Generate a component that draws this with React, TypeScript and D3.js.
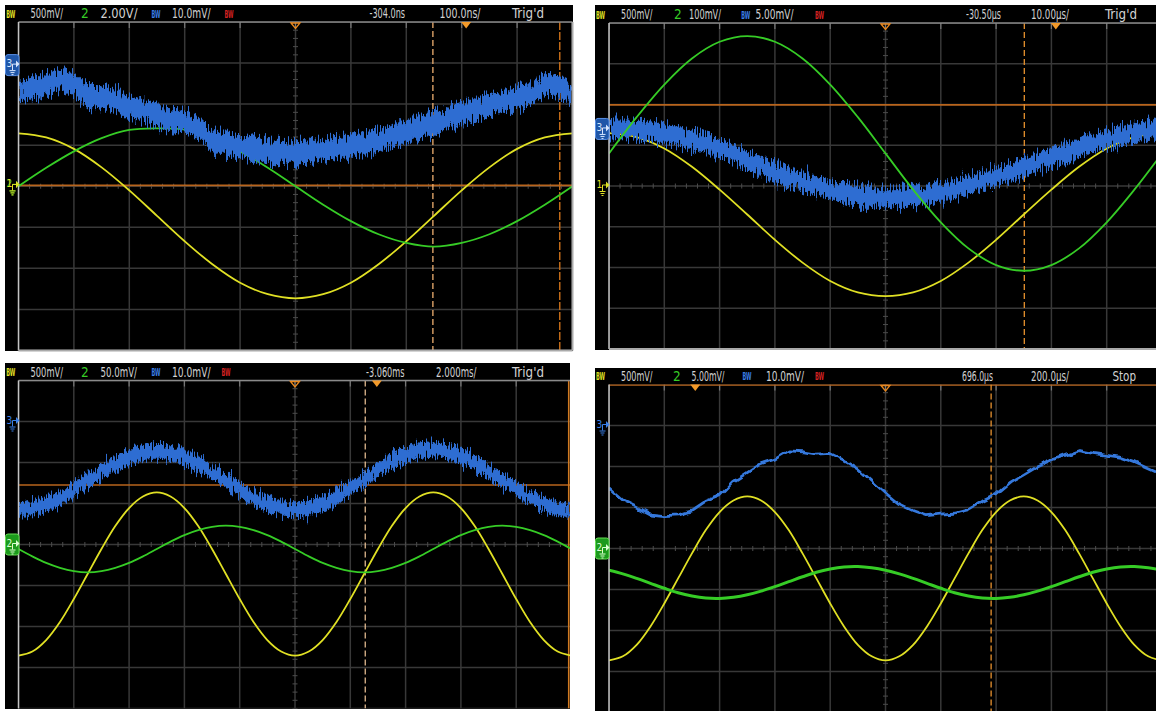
import React from "react";
import * as d3 from "d3";

// ---------- sample positions (graticule divisions from the left edge) ----------
const X_HALF = [0, 0.5, 1, 1.5, 2, 2.5, 3, 3.5, 4, 4.5, 5, 5.5, 6, 6.5, 7, 7.5, 8, 8.5, 9, 9.5, 10];
const X_QUARTER = [0, 0.25, 0.5, 0.75, 1, 1.25, 1.5, 1.75, 2, 2.25, 2.5, 2.75, 3, 3.25, 3.5, 3.75, 4, 4.25, 4.5, 4.75, 5,
  5.25, 5.5, 5.75, 6, 6.25, 6.5, 6.75, 7, 7.25, 7.5, 7.75, 8, 8.25, 8.5, 8.75, 9, 9.25, 9.5, 9.75, 10];

// ---------- trace values (divisions from screen centre, + = up) ----------
// Panel 1 (100 ns/div)
const P1_YELLOW = [1.29, 1.19, 0.91, 0.46, -0.10, -0.72, -1.34, -1.90, -2.35, -2.63, -2.73, -2.63, -2.35, -1.90, -1.34, -0.72, -0.10, 0.46, 0.91, 1.19, 1.29];
const P1_GREEN = [0.00, 0.45, 0.85, 1.17, 1.37, 1.41, 1.38, 1.17, 0.85, 0.45, 0.00, -0.45, -0.85, -1.17, -1.38, -1.47, -1.38, -1.17, -0.85, -0.45, 0.00];
const P1_BLUE = [2.34, 2.39, 2.44, 2.58, 2.48, 2.19, 2.17, 2.09, 1.92, 1.85, 1.73, 1.61, 1.56, 1.41, 1.12, 1.05, 0.97, 0.90, 0.85, 0.83, 0.80,
  0.83, 0.88, 0.93, 0.97, 1.05, 1.12, 1.22, 1.32, 1.44, 1.53, 1.66, 1.78, 1.88, 1.97, 2.07, 2.17, 2.26, 2.48, 2.44, 2.22];
// Panel 2 (10 us/div)
const P2_YELLOW = [1.30, 1.20, 0.92, 0.47, -0.09, -0.70, -1.32, -1.88, -2.33, -2.61, -2.70, -2.61, -2.33, -1.88, -1.32, -0.70, -0.09, 0.47, 0.92, 1.20, 1.30];
const P2_GREEN = [0.80, 1.69, 2.49, 3.13, 3.54, 3.68, 3.54, 3.13, 2.49, 1.69, 0.80, -0.09, -0.89, -1.53, -1.94, -2.08, -1.94, -1.53, -0.89, -0.09, 0.80];
const P2_BLUE = [1.37, 1.37, 1.30, 1.13, 0.93, 0.64, 0.34, 0.10, -0.10, -0.22, -0.29, -0.25, -0.15, 0.02, 0.22, 0.47, 0.71, 0.93, 1.15, 1.30, 1.42];
// Panel 3 (2 ms/div)
const P3_YELLOW = [-2.71, -2.61, -2.33, -1.89, -1.33, -0.72, -0.11, 0.45, 0.89, 1.17, 1.27, 1.17, 0.89, 0.45, -0.11, -0.72, -1.33, -1.89, -2.33, -2.61, -2.71,
  -2.61, -2.33, -1.89, -1.33, -0.72, -0.11, 0.45, 0.89, 1.17, 1.27, 1.17, 0.89, 0.45, -0.11, -0.72, -1.33, -1.89, -2.33, -2.61, -2.71];
const P3_GREEN = [-0.11, -0.29, -0.45, -0.57, -0.65, -0.68, -0.65, -0.57, -0.45, -0.29, -0.11, 0.07, 0.23, 0.35, 0.43, 0.46, 0.43, 0.35, 0.23, 0.07, -0.11,
  -0.29, -0.45, -0.57, -0.65, -0.68, -0.65, -0.57, -0.45, -0.29, -0.11, 0.07, 0.23, 0.35, 0.43, 0.46, 0.43, 0.35, 0.23, 0.07, -0.11];
const P3_BLUE = [0.85, 0.89, 0.99, 1.14, 1.34, 1.56, 1.78, 1.98, 2.13, 2.23, 2.27, 2.23, 2.13, 1.98, 1.78, 1.56, 1.34, 1.14, 0.99, 0.89, 0.85,
  0.89, 0.99, 1.14, 1.36, 1.58, 1.81, 2.02, 2.18, 2.29, 2.33, 2.27, 2.15, 1.99, 1.79, 1.57, 1.35, 1.15, 0.99, 0.89, 0.85];
// Panel 4 (200 us/div)
const P4_YELLOW = [-2.73, -2.63, -2.35, -1.90, -1.34, -0.73, -0.12, 0.45, 0.89, 1.17, 1.27, 1.17, 0.89, 0.45, -0.12, -0.73, -1.34, -1.90, -2.35, -2.63, -2.73,
  -2.63, -2.35, -1.90, -1.34, -0.73, -0.12, 0.45, 0.89, 1.17, 1.27, 1.17, 0.89, 0.45, -0.12, -0.73, -1.34, -1.90, -2.35, -2.63, -2.73];
const P4_GREEN = [-0.53, -0.62, -0.73, -0.85, -0.97, -1.08, -1.16, -1.21, -1.22, -1.19, -1.13, -1.04, -0.93, -0.81, -0.69, -0.58, -0.50, -0.45, -0.44, -0.47, -0.53,
  -0.62, -0.73, -0.85, -0.97, -1.08, -1.16, -1.21, -1.22, -1.19, -1.13, -1.04, -0.93, -0.81, -0.69, -0.58, -0.50, -0.45, -0.44, -0.47, -0.53];
const P4_BLUE = [1.48, 1.18, 1.02, 0.84, 0.80, 0.82, 0.92, 1.15, 1.28, 1.63, 1.85, 2.07, 2.18, 2.38, 2.36, 2.30, 2.32, 2.15, 1.95, 1.65, 1.35,
  1.08, 0.92, 0.80, 0.84, 0.86, 0.95, 1.15, 1.32, 1.60, 1.80, 2.00, 2.15, 2.27, 2.39, 2.32, 2.27, 2.22, 2.10, 1.95, 1.80];

// ---------- header labels ----------
const P1_LABELS = ["500mV/", "2.00V/", "10.0mV/", "-304.0ns", "100.0ns/", "Trig'd"];
const P2_LABELS = ["500mV/", "100mV/", "5.00mV/", "-30.50µs", "10.00µs/", "Trig'd"];
const P3_LABELS = ["500mV/", "50.0mV/", "10.0mV/", "-3.060ms", "2.000ms/", "Trig'd"];
const P4_LABELS = ["500mV/", "5.00mV/", "10.0mV/", "696.0µs", "200.0µs/", "Stop"];

// ---------- styles ----------
const YEL = "#e0e024";
const GRN = "#36cc26";
const BLU = "#2f6dd2";
const ORG = "#b8641c";
const GRID = "#383838";
const TXT = "#d2d2d2";
const FONT = "'Liberation Sans Narrow', 'DejaVu Sans Condensed', 'Liberation Sans', sans-serif";

type TraceCfg = { kind: "line" | "band"; xs: number[]; ys: number[]; color: string; width?: number; half?: number; filter?: string; linear?: boolean };
type CursorCfg = { pos: number; color: string; dash: string; width: number };
type MarkerCfg = { ch: string; pos: number; boxed: boolean };
type PanelCfg = {
  id: string;
  bx: number; by: number; bw: number; bh: number;
  gx: number; gy: number; sx: number; sy: number;
  labels: string[];
  labelPos: number[][];
  twoX: number;
  bwX: number[];
  trigLevel: number;
  trigPos: number;
  cursors: CursorCfg[];
  markers: MarkerCfg[];
  traces: TraceCfg[];
  borderRight: boolean;
  borderBottom: boolean;
  edgeLine?: number;
  orangeTop?: boolean;
};

const PANELS: PanelCfg[] = [
  {
    id: "p1", bx: 5, by: 5, bw: 568, bh: 346, gx: 18.5, gy: 22, sx: 55.4, sy: 41.06,
    labels: P1_LABELS,
    labelPos: [[30.5, 32.5], [100.5, 37], [172, 38.5], [369.5, 35.5], [439.5, 41], [512, 32]],
    twoX: 81, bwX: [6.3, 151.5, 224.6],
    trigLevel: 0.02, trigPos: 8.08,
    cursors: [{ pos: 7.48, color: "#f0b070", dash: "6 3", width: 1.3 }, { pos: 9.77, color: "#c06a18", dash: "8 2", width: 1.5 }],
    markers: [{ ch: "3", pos: 2.95, boxed: true }, { ch: "2", pos: 0.02, boxed: false }, { ch: "1", pos: 0.02, boxed: false }],
    traces: [
      { kind: "line", xs: X_HALF, ys: P1_YELLOW, color: YEL, width: 1.8 },
      { kind: "line", xs: X_HALF, ys: P1_GREEN, color: GRN, width: 1.8 },
      { kind: "band", xs: X_QUARTER, ys: P1_BLUE, color: BLU, half: 0.27, filter: "url(#noiseA)" },
    ],
    borderRight: true, borderBottom: true,
  },
  {
    id: "p2", bx: 595, by: 5, bw: 561, bh: 345, gx: 609, gy: 23, sx: 55.3, sy: 40.75,
    labels: P2_LABELS,
    labelPos: [[621, 31.5], [689, 32], [755.5, 38], [966, 35], [1031, 38], [1105, 32]],
    twoX: 674, bwX: [596, 741.3, 815],
    trigLevel: 1.99, trigPos: 8.08,
    cursors: [{ pos: 7.51, color: "#e8922e", dash: "6 3", width: 1.3 }],
    markers: [{ ch: "3", pos: 1.4, boxed: true }, { ch: "1", pos: 0, boxed: false }],
    traces: [
      { kind: "line", xs: X_HALF, ys: P2_YELLOW, color: YEL, width: 1.8 },
      { kind: "band", xs: X_HALF, ys: P2_BLUE, color: BLU, half: 0.23, filter: "url(#noiseA)" },
      { kind: "line", xs: X_HALF, ys: P2_GREEN, color: GRN, width: 1.8 },
    ],
    borderRight: false, borderBottom: true,
  },
  {
    id: "p3", bx: 5, by: 363, bw: 565, bh: 346, gx: 18.5, gy: 380.5, sx: 55.3, sy: 41,
    labels: P3_LABELS,
    labelPos: [[30.5, 32.5], [100.5, 36.5], [172, 38.5], [366, 38.5], [436, 40.5], [512, 32]],
    twoX: 81, bwX: [6.3, 151.5, 221.6],
    trigLevel: 1.45, trigPos: 6.48,
    cursors: [{ pos: 6.27, color: "#f3c89a", dash: "6 3", width: 1.2 }],
    markers: [{ ch: "3", pos: 3.0, boxed: false }, { ch: "2", pos: 0, boxed: true }],
    traces: [
      { kind: "line", xs: X_QUARTER, ys: P3_YELLOW, color: YEL, width: 1.8 },
      { kind: "line", xs: X_QUARTER, ys: P3_GREEN, color: GRN, width: 1.8 },
      { kind: "band", xs: X_QUARTER, ys: P3_BLUE, color: BLU, half: 0.18, filter: "url(#noiseB)" },
    ],
    borderRight: false, borderBottom: false, edgeLine: 9.95,
  },
  {
    id: "p4", bx: 595, by: 368, bw: 561, bh: 343, gx: 609, gy: 384.5, sx: 55.3, sy: 41,
    labels: P4_LABELS,
    labelPos: [[621, 31.5], [691.5, 33], [766, 38], [962, 31], [1031, 38], [1112.5, 23.5]],
    twoX: 673, bwX: [596, 742.4, 815],
    trigLevel: 4.0, trigPos: 1.56,
    cursors: [{ pos: 6.91, color: "#e8922e", dash: "6 3", width: 1.3 }],
    markers: [{ ch: "3", pos: 3.0, boxed: false }, { ch: "2", pos: 0, boxed: true }],
    traces: [
      { kind: "line", xs: X_QUARTER, ys: P4_YELLOW, color: YEL, width: 1.8 },
      { kind: "line", xs: X_QUARTER, ys: P4_BLUE, color: "#3478dc", width: 2.8, linear: true, filter: "url(#wiggle)" },
      { kind: "line", xs: X_QUARTER, ys: P4_GREEN, color: GRN, width: 3 },
    ],
    borderRight: false, borderBottom: false, orangeTop: true,
  },
];

const CH_COLORS: Record<string, { c: string; fill: string; stroke: string; ink: string }> = {
  "1": { c: YEL, fill: "#8a8a10", stroke: YEL, ink: "#ffffa0" },
  "2": { c: GRN, fill: "#1c9a1c", stroke: "#66dd55", ink: "#dcffd0" },
  "3": { c: "#3a80e8", fill: "#1f56a8", stroke: "#5a90e6", ink: "#d6e6ff" },
};

function Marker({ ox, y, m }: { ox: number; y: number; m: MarkerCfg }) {
  const col = CH_COLORS[m.ch];
  const ink = m.boxed ? col.ink : col.c;
  return (
    <g>
      {m.boxed && <rect x={ox + 0.5} y={y - 10.5} width={13.5} height={21} rx={2.5} fill={col.fill} stroke={col.stroke} strokeWidth={1} />}
      <text x={ox + 1.5} y={y + 2} fontSize={10} fontFamily={FONT} fill={ink}>{m.ch}</text>
      <path d={`M${ox + 7.5},${y + 5} V${y - 1} H${ox + 11}`} stroke={ink} strokeWidth={1} fill="none" />
      <path d={`M${ox + 4.5},${y + 5.5} H${ox + 10.5} M${ox + 5.5},${y + 7.5} H${ox + 9.5} M${ox + 6.5},${y + 9.5} H${ox + 8.5}`} stroke={ink} strokeWidth={1} fill="none" />
      <path d={`M${ox + 11},${y - 4.5} L${ox + 14.5},${y - 1} L${ox + 11},${y + 2.5} Z`} fill={ink} />
    </g>
  );
}

function Panel({ cfg }: { cfg: PanelCfg }) {
  const { id, bx, by, bw, bh, gx, gy, sx, sy } = cfg;
  const x = d3.scaleLinear().domain([0, 10]).range([gx, gx + 10 * sx]);
  const y = d3.scaleLinear().domain([-4, 4]).range([gy + 8 * sy, gy]);
  const right = Math.min(gx + 10 * sx, bx + bw);
  const bottom = Math.min(gy + 8 * sy, by + bh);
  const base = gy - 4;
  const cy = y(0);
  const cx = x(5);
  const minorX = d3.range(0, 10.001, 0.2);
  const minorY = d3.range(-4, 4.001, 0.2);

  const renderTrace = (t: TraceCfg, i: number) => {
    if (t.kind === "band") {
      const half = t.half || 0.2;
      const area = d3.area<number>()
        .x((_, k) => x(t.xs[k]))
        .y0((d) => y(d - half))
        .y1((d) => y(d + half))
        .curve(d3.curveCatmullRom);
      return <path key={i} d={area(t.ys) || ""} fill={t.color} filter={t.filter} />;
    }
    const line = d3.line<number>()
      .x((_, k) => x(t.xs[k]))
      .y((d) => y(d))
      .curve(t.linear ? d3.curveLinear : d3.curveCatmullRom);
    return <path key={i} d={line(t.ys) || ""} fill="none" stroke={t.color} strokeWidth={t.width || 1.8} strokeLinejoin="round" filter={t.filter} />;
  };

  const tx = x(cfg.trigPos);
  return (
    <g>
      <clipPath id={`clip-${id}`}>
        <rect x={gx} y={gy} width={right - gx} height={bottom - gy} />
      </clipPath>
      <rect x={bx} y={by} width={bw} height={bh} fill="#000" />
      {/* header */}
      {cfg.bwX.map((bxx, i) => (
        <text key={`bw${i}`} x={bxx} y={base - 0.5} fontSize={10} fontWeight="bold" fontFamily={FONT}
          fill={[YEL, "#3a7de6", "#d42222"][i]} textLength={9} lengthAdjust="spacingAndGlyphs">BW</text>
      ))}
      <text x={cfg.twoX} y={base} fontSize={13.5} fontFamily={FONT} fill={GRN}>2</text>
      {cfg.labels.map((lab, i) => (
        <text key={`l${i}`} x={cfg.labelPos[i][0]} y={base} fontSize={13.5} fontFamily={FONT} fill={TXT}
          textLength={cfg.labelPos[i][1]} lengthAdjust="spacingAndGlyphs">{lab}</text>
      ))}
      {/* graticule and traces */}
      <g clipPath={`url(#clip-${id})`}>
        {x.ticks(10).map((t) => (
          <line key={`vx${t}`} x1={x(t)} x2={x(t)} y1={gy} y2={gy + 8 * sy} stroke={GRID} strokeWidth={1.5} />
        ))}
        {y.ticks(8).map((t) => (
          <line key={`hy${t}`} x1={gx} x2={gx + 10 * sx} y1={y(t)} y2={y(t)} stroke={GRID} strokeWidth={1.5} />
        ))}
        {x.ticks(10).map((t) => (
          <line key={`tt${t}`} x1={x(t)} x2={x(t)} y1={gy} y2={gy + 6} stroke="#777" strokeWidth={1.2} />
        ))}
        {minorX.map((t, i) => (
          <line key={`mx${i}`} x1={x(t)} x2={x(t)} y1={cy - 2.5} y2={cy + 2.5} stroke="#4c4c4c" strokeWidth={1} />
        ))}
        {minorY.map((t, i) => (
          <line key={`my${i}`} x1={cx - 2.5} x2={cx + 2.5} y1={y(t)} y2={y(t)} stroke="#4c4c4c" strokeWidth={1} />
        ))}
        {/* trigger level */}
        <line x1={gx} x2={gx + 10 * sx} y1={y(cfg.trigLevel)} y2={y(cfg.trigLevel)} stroke={ORG} strokeWidth={cfg.orangeTop ? 2.5 : 1.6} />
        {cfg.cursors.map((c, i) => (
          <line key={`c${i}`} x1={x(c.pos)} x2={x(c.pos)} y1={gy} y2={gy + 8 * sy} stroke={c.color} strokeWidth={c.width} strokeDasharray={c.dash} />
        ))}
        {cfg.edgeLine !== undefined && (
          <line x1={x(cfg.edgeLine)} x2={x(cfg.edgeLine)} y1={gy} y2={gy + 8 * sy} stroke="#d07a22" strokeWidth={1.6} />
        )}
        {cfg.traces.map(renderTrace)}
      </g>
      {/* borders */}
      {!cfg.orangeTop && <line x1={gx} x2={right} y1={gy} y2={gy} stroke="#8a8a8a" strokeWidth={1.4} />}
      <line x1={gx} x2={gx} y1={gy} y2={bottom} stroke="#c4c4c4" strokeWidth={1.5} />
      {cfg.borderBottom && <line x1={gx} x2={right} y1={gy + 8 * sy} y2={gy + 8 * sy} stroke="#aaaaaa" strokeWidth={2} />}
      {cfg.borderRight && <line x1={gx + 10 * sx} x2={gx + 10 * sx} y1={gy} y2={gy + 8 * sy} stroke="#aaaaaa" strokeWidth={2} />}
      {/* time reference / trigger markers */}
      <path d={`M${cx - 4.5},${gy + 1} L${cx},${gy + 6.5} L${cx + 4.5},${gy + 1} Z`} fill="none" stroke="#e8871e" strokeWidth={1.3} />
      <path d={`M${tx - 5},${gy} L${tx + 5},${gy} L${tx},${gy + 6.5} Z`} fill="#f39a2a" />
      {/* channel markers */}
      {cfg.markers.map((m, i) => (
        <Marker key={`m${i}`} ox={bx} y={y(m.pos)} m={m} />
      ))}
    </g>
  );
}

export default function App() {
  return (
    <div style={{ position: "absolute", left: 0, top: 0, width: 1156, height: 711, background: "#fff" }}>
      <svg width={1156} height={711} style={{ display: "block" }}>
        <defs>
          <filter id="noiseA" x="-3%" y="-40%" width="106%" height="180%">
            <feTurbulence type="fractalNoise" baseFrequency="0.8 0.04" numOctaves={2} seed={3} result="n" />
            <feDisplacementMap in="SourceGraphic" in2="n" scale={24} xChannelSelector="G" yChannelSelector="R" />
          </filter>
          <filter id="noiseB" x="-3%" y="-40%" width="106%" height="180%">
            <feTurbulence type="fractalNoise" baseFrequency="0.8 0.05" numOctaves={2} seed={8} result="n" />
            <feDisplacementMap in="SourceGraphic" in2="n" scale={20} xChannelSelector="G" yChannelSelector="R" />
          </filter>
          <filter id="wiggle" x="-3%" y="-40%" width="106%" height="180%">
            <feTurbulence type="fractalNoise" baseFrequency="0.09" numOctaves={1} seed={5} result="n" />
            <feDisplacementMap in="SourceGraphic" in2="n" scale={7} xChannelSelector="G" yChannelSelector="R" />
          </filter>
        </defs>
        <rect x={0} y={0} width={1156} height={711} fill="#fff" />
        {PANELS.map((p) => (
          <Panel key={p.id} cfg={p} />
        ))}
      </svg>
    </div>
  );
}
